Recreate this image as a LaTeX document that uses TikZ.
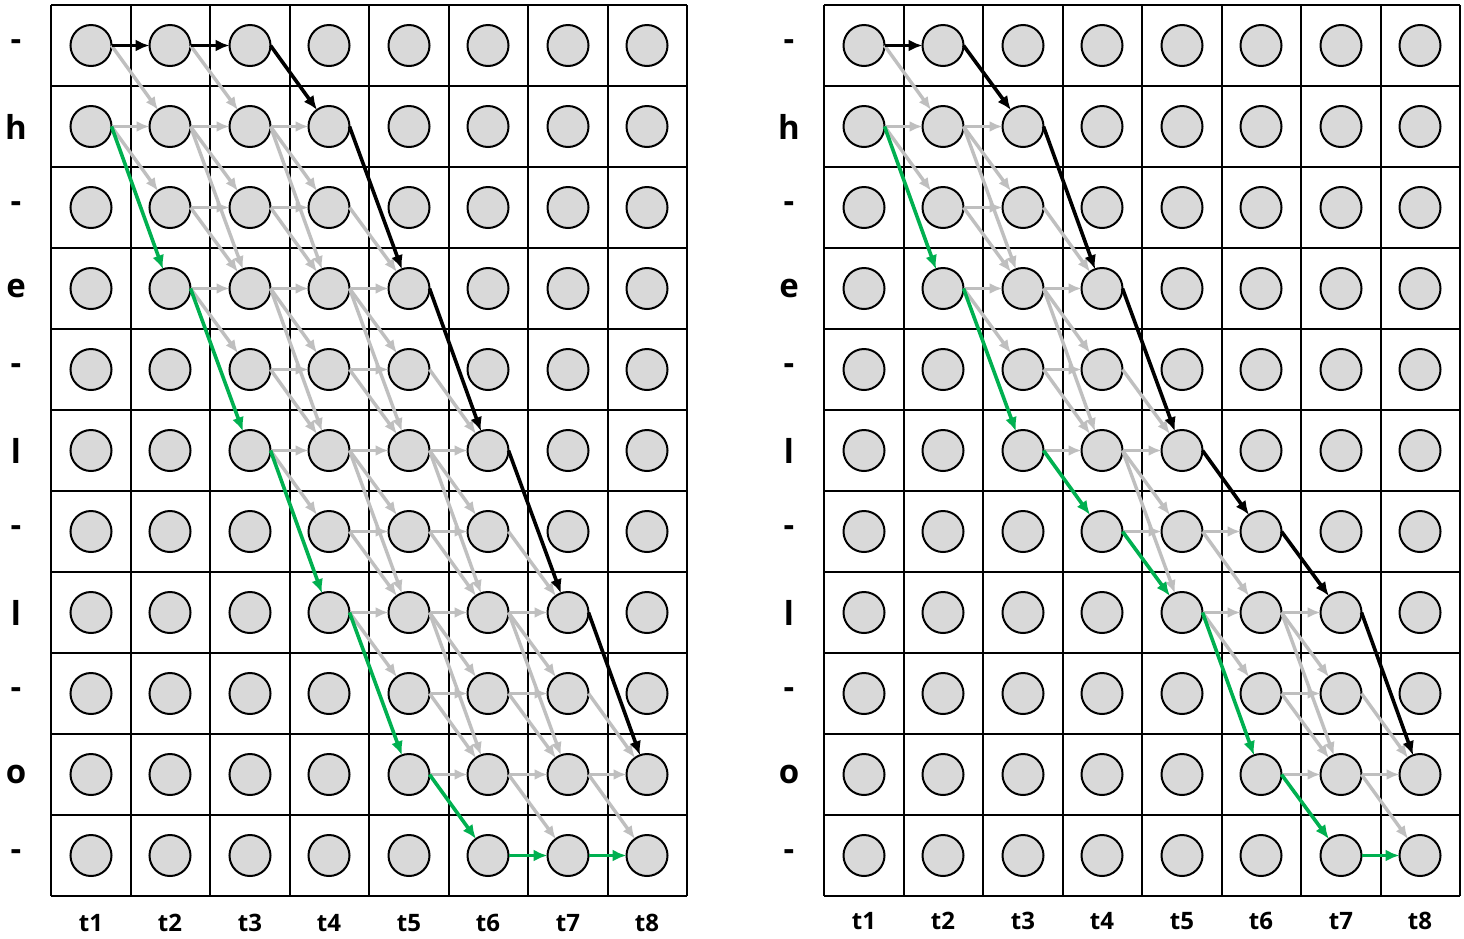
\documentclass[tikz,border=0pt]{standalone}
\usepackage{fontspec}
\setmainfont{Open Sans}
\usetikzlibrary{arrows.meta}
\definecolor{cellgray}{HTML}{D9D9D9}
\definecolor{arrgray}{HTML}{BFBFBF}
\definecolor{pathgreen}{HTML}{00B050}
\tikzset{
  cellnode/.style={circle, draw=black, line width=2pt, fill=cellgray, minimum size=41pt, inner sep=0pt, outer sep=0pt},
  gridline/.style={draw=black, line width=2pt},
  grayarr/.style={draw=arrgray, line width=3.4pt, -{Latex[length=13pt,width=11pt]}},
  blackarr/.style={draw=black, line width=3.6pt, -{Latex[length=14pt,width=12pt]}},
  greenarr/.style={draw=pathgreen, line width=3.6pt, -{Latex[length=14pt,width=12pt]}},
  rowlab/.style={font=\fontsize{33}{33}\selectfont\bfseries, inner sep=0pt},
  collab/.style={font=\fontsize{24}{24}\selectfont\bfseries, inner sep=0pt},
}
\begin{document}
\begin{tikzpicture}[x=1pt,y=-1pt]
\useasboundingbox[fill=white] (0,0) rectangle (1464,938);
% grids and nodes
\foreach \P/\xo/\ly in {L/51/923,R/824/921}{
  \foreach \i in {0,...,8}
    \draw[gridline] ({round(\xo+79.5*\i)},5) -- ({round(\xo+79.5*\i)},896);
  \foreach \j in {0,...,11}
    \draw[gridline] (\xo,{5+81*\j}) -- ({\xo+636},{5+81*\j});
  \foreach \t in {1,...,8}{
    \foreach \s in {0,...,10}{
      \node[cellnode] (\P-\s-\t) at ({round(\xo+79.5*(\t-0.5))},{5+81*(\s+0.5)}) {};
    }
    \node[collab] (\P-col-\t) at ({round(\xo+79.5*(\t-0.5))},\ly) {t\t};
  }
  \foreach \s/\l in {0/-,1/h,2/-,3/e,4/-,5/l,6/-,7/l,8/-,9/o,10/-}{
    \node[rowlab] (\P-row-\s) at ({\xo-35},{5+81*(\s+0.5)}) {\l};
  }
}
% left gray
\foreach \a/\t/\b [evaluate=\t as \tn using int(\t+1)] in {
  0/1/1, 1/1/1, 1/1/2,
  0/2/1, 1/2/1, 1/2/2, 1/2/3, 2/2/2, 2/2/3, 3/2/3, 3/2/4,
  1/3/1, 1/3/2, 1/3/3, 2/3/2, 2/3/3, 3/3/3, 3/3/4, 3/3/5, 4/3/4, 4/3/5, 5/3/5, 5/3/6,
  2/4/3, 3/4/3, 3/4/4, 3/4/5, 4/4/4, 4/4/5, 5/4/5, 5/4/6, 5/4/7, 6/4/6, 6/4/7, 7/4/7, 7/4/8,
  4/5/5, 5/5/5, 5/5/6, 5/5/7, 6/5/6, 6/5/7, 7/5/7, 7/5/8, 7/5/9, 8/5/8, 8/5/9, 9/5/9,
  6/6/7, 7/6/7, 7/6/8, 7/6/9, 8/6/8, 8/6/9, 9/6/9, 9/6/10,
  8/7/9, 9/7/9, 9/7/10}
  \draw[grayarr] (L-\a-\t.east) -- (L-\b-\tn);
% left black
\foreach \a/\t/\b [evaluate=\t as \tn using int(\t+1)] in {0/1/0, 0/2/0, 0/3/1, 1/4/3, 3/5/5, 5/6/7, 7/7/9}
  \draw[blackarr] (L-\a-\t.east) -- (L-\b-\tn);
% left green
\foreach \a/\t/\b [evaluate=\t as \tn using int(\t+1)] in {1/1/3, 3/2/5, 5/3/7, 7/4/9, 9/5/10, 10/6/10, 10/7/10}
  \draw[greenarr] (L-\a-\t.east) -- (L-\b-\tn);
% right gray
\foreach \a/\t/\b [evaluate=\t as \tn using int(\t+1)] in {
  0/1/1, 1/1/1, 1/1/2,
  1/2/1, 1/2/2, 1/2/3, 2/2/2, 2/2/3, 3/2/3, 3/2/4,
  2/3/3, 3/3/3, 3/3/4, 3/3/5, 4/3/4, 4/3/5, 5/3/5,
  4/4/5, 5/4/5, 5/4/6, 5/4/7, 6/4/6,
  6/5/6, 6/5/7, 7/5/7, 7/5/8,
  7/6/7, 7/6/8, 7/6/9, 8/6/8, 8/6/9, 9/6/9,
  8/7/9, 9/7/9, 9/7/10}
  \draw[grayarr] (R-\a-\t.east) -- (R-\b-\tn);
% right black
\foreach \a/\t/\b [evaluate=\t as \tn using int(\t+1)] in {0/1/0, 0/2/1, 1/3/3, 3/4/5, 5/5/6, 6/6/7, 7/7/9}
  \draw[blackarr] (R-\a-\t.east) -- (R-\b-\tn);
% right green
\foreach \a/\t/\b [evaluate=\t as \tn using int(\t+1)] in {1/1/3, 3/2/5, 5/3/6, 6/4/7, 7/5/9, 9/6/10, 10/7/10}
  \draw[greenarr] (R-\a-\t.east) -- (R-\b-\tn);
\end{tikzpicture}
\end{document}
